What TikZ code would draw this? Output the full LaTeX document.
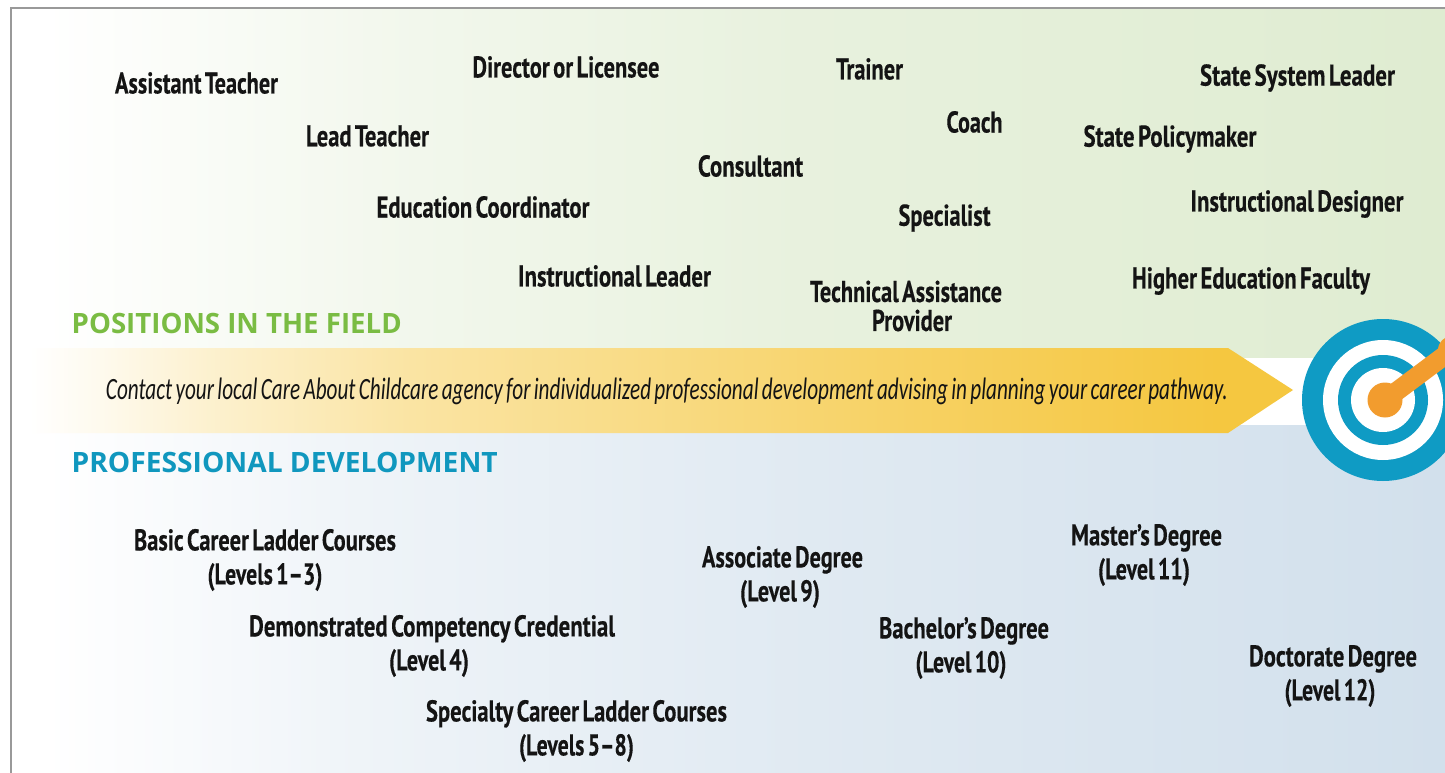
\documentclass[tikz,border=0pt]{standalone}
\usepackage{fontspec}
\usepackage{graphicx}
\setmainfont{PT Sans}
\newfontfamily\labelfont{PT Sans}[BoldFont={PT Sans Bold},BoldFeatures={FakeBold=0.35},WordSpace=0.6]
\newfontfamily\headfont{Open Sans}
\newfontfamily\notefont{Carlito}[WordSpace=0.7]
\newsavebox{\fitbox}
\newcommand{\fitw}[2]{\sbox{\fitbox}{#2}\pgfmathsetmacro{\fitratio}{#1/(\wd\fitbox/1pt)}\scalebox{\fitratio}[1]{\usebox{\fitbox}}}
\definecolor{fieldgreen}{HTML}{DFECD1}
\definecolor{devblue}{HTML}{D2E0EC}
\definecolor{headgreen}{HTML}{7ABC43}
\definecolor{headblue}{HTML}{1097BE}
\definecolor{ringblue}{HTML}{0F9BC4}
\definecolor{dartorange}{HTML}{F29C2E}
\definecolor{arrowgold}{HTML}{F5C740}
\definecolor{inkblack}{HTML}{141414}
\pgfdeclarehorizontalshading{bandfade}{100bp}{color(0bp)=(white); color(25bp)=(white); color(28bp)=(arrowgold!10!white); color(32bp)=(arrowgold!25!white); color(40bp)=(arrowgold!48!white); color(60bp)=(arrowgold!82!white); color(72bp)=(arrowgold); color(100bp)=(arrowgold)}
\pgfdeclarehorizontalshading{fieldfade}{100bp}{color(0bp)=(white); color(25bp)=(white); color(37bp)=(fieldgreen!38!white); color(52bp)=(fieldgreen!72!white); color(75bp)=(fieldgreen); color(100bp)=(fieldgreen)}
\pgfdeclarehorizontalshading{devfade}{100bp}{color(0bp)=(white); color(25bp)=(white); color(37bp)=(devblue!38!white); color(52bp)=(devblue!68!white); color(75bp)=(devblue); color(100bp)=(devblue)}
\tikzset{
  lbl/.style={font=\labelfont\bfseries\fontsize{30}{34}\selectfont, text=inkblack, align=center, inner sep=0pt},
  head/.style={font=\headfont\bfseries\fontsize{28}{34}\selectfont, anchor=west, inner sep=0pt},
  ring/.style={circle, fill=#1, draw=none, inner sep=0pt}
}
\begin{document}
\begin{tikzpicture}[x=1pt,y=-1pt]
\useasboundingbox (0,0) rectangle (1445,773);
\fill[white] (0,0) rectangle (1445,773);
\begin{scope}
\clip (0,0) rectangle (1445,773);
% backgrounds
\shade[shading=fieldfade] (45,8) rectangle (1445,357);
\shade[shading=devfade] (45,425) rectangle (1445,773);
% border
\draw[draw=black!40,line width=1.5pt] (11,773) -- (11,8) -- (1445,8);
% band
\shade[shading=bandfade] (30,348) -- (1228,348) -- (1293,390) -- (1228,433) -- (30,433) -- cycle;
% target
\node[ring=ringblue,minimum size=162pt] (outer) at (1383,400) {};
\node[ring=white,minimum size=120pt] (whitea) at (outer.center) {};
\node[ring=ringblue,minimum size=90pt] (inner) at (outer.center) {};
\node[ring=white,minimum size=64pt] (whiteb) at (outer.center) {};
\node[ring=dartorange,minimum size=35pt] (dot) at (1385,400) {};
\coordinate (dartend) at (1452,350);
\draw[dartorange,line width=19pt] (dot.center) -- (dartend);
\fill[dartorange] (dartend) circle (14);
\end{scope}
% band text
\node[font=\notefont\itshape\fontsize{31}{35}\selectfont,text=inkblack,inner sep=0pt] (note) at (667,391) {\fitw{1122}{Contact your local Care About Childcare agency for individualized professional development advising in planning your career pathway.}};
% headings
\node[head,text=headgreen] (hfield) at (71.5,323) {\fitw{330}{POSITIONS IN THE FIELD}};
\node[head,text=headblue] (hdev) at (71.5,462) {\fitw{426}{PROFESSIONAL DEVELOPMENT}};
% positions
\node[lbl] (p1) at (196.5,83) {\fitw{163}{Assistant Teacher}};
\node[lbl] (p2) at (566,67) {\fitw{187}{Director or Licensee}};
\node[lbl] (p3) at (869.5,69) {\fitw{67}{Trainer}};
\node[lbl] (p4) at (1297.5,78) {\fitw{195}{State System Leader}};
\node[lbl] (p5) at (367.5,136) {\fitw{123}{Lead Teacher}};
\node[lbl] (p6) at (974.5,122) {\fitw{56}{Coach}};
\node[lbl] (p7) at (1170,139) {\fitw{173}{State Policymaker}};
\node[lbl] (p8) at (750.5,166) {\fitw{105}{Consultant}};
\node[lbl] (p9) at (483,207) {\fitw{213}{Education Coordinator}};
\node[lbl] (p10) at (944.5,218) {\fitw{92}{Specialist}};
\node[lbl] (p11) at (1297,204) {\fitw{213}{Instructional Designer}};
\node[lbl] (p12) at (614.5,276) {\fitw{193}{Instructional Leader}};
\node[lbl] (p13) at (906,306) {\fitw{192}{Technical Assistance}\\[-5pt]\hspace*{12pt}\fitw{80}{Provider}};
\node[lbl] (p14) at (1251,281) {\fitw{238}{Higher Education Faculty}};
% development
\node[lbl] (d1) at (265,560) {\fitw{262}{Basic Career Ladder Courses}\\\fitw{115}{(Levels 1–3)}};
\node[lbl] (d2) at (432,646) {\fitw{366}{Demonstrated Competency Credential}\\\hspace*{-6pt}\fitw{80}{(Level 4)}};
\node[lbl] (d3) at (576.5,731) {\fitw{301}{Specialty Career Ladder Courses}\\\fitw{115}{(Levels 5–8)}};
\node[lbl] (d4) at (782.5,577) {\fitw{161}{Associate Degree}\\\hspace*{-5pt}\fitw{80}{(Level 9)}};
\node[lbl] (d5) at (964,648) {\fitw{170}{Bachelor’s Degree}\\\hspace*{-6pt}\fitw{91}{(Level 10)}};
\node[lbl] (d6) at (1146.5,555) {\fitw{151}{Master’s Degree}\\\hspace*{-5pt}\fitw{92}{(Level 11)}};
\node[lbl] (d7) at (1333,676) {\fitw{168}{Doctorate Degree}\\\hspace*{-6pt}\fitw{91}{(Level 12)}};
\end{tikzpicture}
\end{document}
